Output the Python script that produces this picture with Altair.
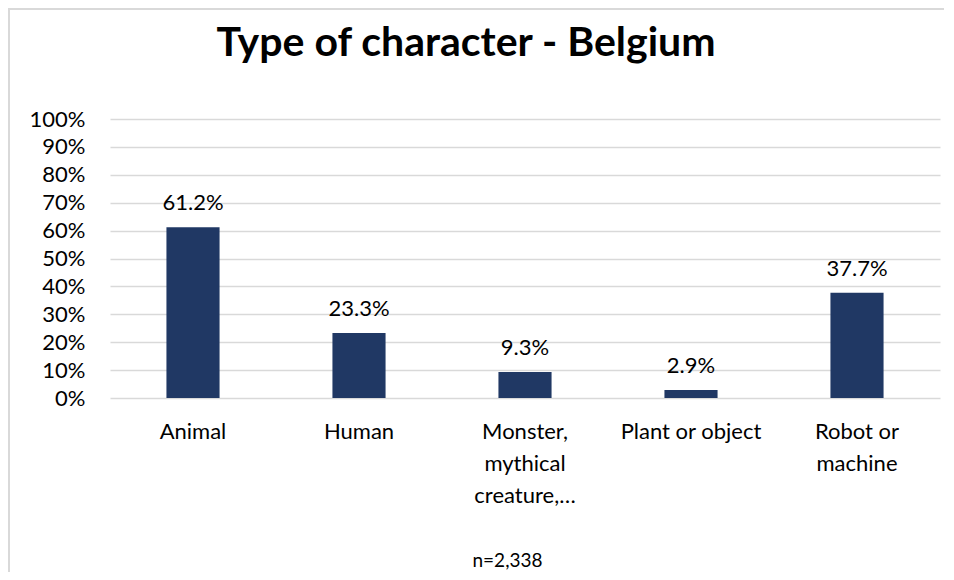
import altair as alt
import pandas as pd

categories = ["Animal", "Human", "Monster,\nmythical\ncreature,…", "Plant or object", "Robot or\nmachine"]
shares = [0.612, 0.233, 0.093, 0.029, 0.377]
title_text = "Type of character - Belgium"
note_text = "n=2,338"
y_ticks = [0, 0.1, 0.2, 0.3, 0.4, 0.5, 0.6, 0.7, 0.8, 0.9, 1.0]

FONT = "Lato"
df = pd.DataFrame({"category": categories, "share": shares})

x_enc = alt.X(
    "category:N",
    sort=categories,
    scale=alt.Scale(paddingInner=0.68, paddingOuter=0.34),
    axis=alt.Axis(
        title=note_text,
        titleFont=FONT,
        titleFontSize=19,
        titleFontWeight="normal",
        titleColor="#000000",
        titleX=397,
        titleY=162,
        titleBaseline="middle",
        labelExpr="split(datum.label, '\\n')",
        labelAngle=0,
        labelFont=FONT,
        labelFontSize=22,
        labelColor="#000000",
        labelLineHeight=32,
        labelPadding=23,
        labelLimit=300,
        ticks=False,
        domain=False,
        grid=False,
    ),
)

y_enc = alt.Y(
    "share:Q",
    scale=alt.Scale(domain=[0, 1], nice=False),
    axis=alt.Axis(
        title=None,
        values=y_ticks,
        tickCount=11,
        format=".0%",
        labelFont=FONT,
        labelFontSize=22,
        labelColor="#000000",
        labelPadding=25,
        labelOverlap=False,
        ticks=False,
        domain=False,
        grid=True,
        gridColor="#d9d9d9",
        gridWidth=1.5,
    ),
)

bars = alt.Chart(df).mark_bar(color="#203864").encode(x=x_enc, y=y_enc)

labels = alt.Chart(df).mark_text(
    font=FONT, fontSize=22, color="#000000", baseline="alphabetic", dy=-17
).encode(
    x=x_enc,
    y=y_enc,
    text=alt.Text("share:Q", format=".1%"),
)

border_data = alt.Data(values=[{"k": 1}])
left_border = alt.Chart(border_data).mark_rule(color="#d9d9d9", strokeWidth=2).encode(
    x=alt.value(-101), y=alt.value(-111), y2=alt.value(460)
)
top_border = alt.Chart(border_data).mark_rule(color="#d9d9d9", strokeWidth=2).encode(
    x=alt.value(-101), x2=alt.value(840), y=alt.value(-110)
)

chart = (
    alt.layer(bars, labels, left_border, top_border)
    .properties(
        width=830,
        height=279,
        autosize=alt.AutoSizeParams(type="none"),
        padding={"left": 102, "top": 111, "right": 4, "bottom": 174},
        title=alt.TitleParams(
            text=title_text,
            font=FONT,
            fontSize=41,
            fontWeight="bold",
            color="#000000",
            anchor="middle",
            baseline="alphabetic",
            dx=-59,
            dy=110,
            offset=20,
        ),
    )
    .configure(background="#ffffff")
    .configure_view(stroke=None)
)

chart.save("out.html", embed_options={"renderer": "svg", "actions": False})
